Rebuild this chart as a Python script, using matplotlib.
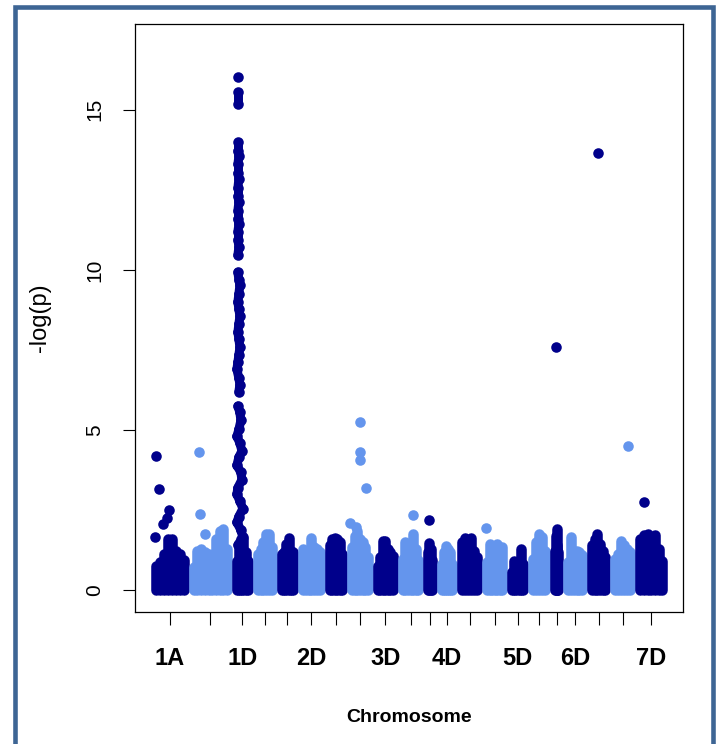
import numpy as np
import matplotlib
matplotlib.use('Agg')
import matplotlib.pyplot as plt
from matplotlib.patches import Rectangle

plt.rcParams['font.family'] = ['Liberation Sans', 'DejaVu Sans']

# chromosomes and their lengths on the x axis (arbitrary cumulative units)
chroms = ['1A', '1B', '1D', '2A', '2B', '2D', '3A', '3B', '3D', '4A', '4B',
          '4D', '5A', '5B', '5D', '6A', '6B', '6D', '7A', '7B', '7D']
chrom_len = [38, 43, 21, 24, 21, 27, 22, 26, 25, 25, 14,
             20, 25, 25, 21, 22, 13, 24, 23, 25, 32]
shown_labels = ['1A', '1D', '2D', '3D', '4D', '5D', '6D', '7D']

# upper edge of the dense cloud of SNPs (-log p), left to right in each chromosome
top_1A = [0.77, 0.88, 1.14, 1.6, 1.6, 1.24, 1.14, 0.93]
top_1B = [0.72, 1.24, 1.29, 1.2, 1.14, 1.08, 1.6, 1.86, 1.92, 1.3]
top_1D = [0.9, 1.3, 1.6, 1.6, 1.2, 0.9]
top_2A = [1.14, 1.29, 1.5, 1.76, 1.76, 1.34]
top_2B = [1.14, 1.19, 1.45, 1.64, 1.24, 1.19]
top_2D = [1.29, 1.14, 1.2, 1.62, 1.34, 1.29, 1.2]
top_3A = [1.4, 1.6, 1.62, 1.6, 1.5, 1.14]
top_3B = [1.34, 1.7, 1.85, 1.6, 1.5, 1.34, 1.03]
top_3D = [0.77, 1.03, 1.54, 1.54, 1.3, 1.19, 1.08]
top_4A = [0.98, 1.5, 1.34, 1.45, 1.75, 1.29, 0.93]
top_4B = [1.19, 1.49, 1.3, 0.93]
top_4D = [0.82, 1.19, 1.38, 1.3, 1.19, 0.82]
top_5A = [1.5, 1.64, 1.55, 1.64, 1.24, 1.03]
top_5B = [0.88, 1.43, 0.98, 1.03, 1.43, 1.14, 1.34]
top_5D = [0.56, 0.92, 0.77, 0.88, 1.28, 0.82]
top_6A = [0.98, 1.5, 1.75, 1.65, 1.24]
top_6B = [1.24, 1.69, 1.4, 1.92, 1.19]
top_6D = [0.88, 1.67, 1.24, 1.24, 1.19, 1.1]
top_7A = [1.4, 1.6, 1.77, 1.45, 1.24, 1.03]
top_7B = [0.98, 1.14, 1.54, 1.4, 1.29, 1.19]
top_7D = [1.6, 1.72, 1.75, 1.45, 1.71, 1.3, 0.9]

# isolated SNPs above the cloud
out_chrom = ['1A', '1A', '1A', '1A', '1A', '1A', '1B', '1B', '1B',
             '3B', '3B', '3B', '3B', '3B', '3B', '4A', '4B', '5B',
             '6B', '7A', '7B', '7D']
out_pos = [5, 8, 18, 16, 12, 4, 10, 11, 16,
           13, 13, 13, 19, 3, 9, 15, 6, 4,
           6, 11, 18, 9]
out_logp = [4.18, 3.15, 2.49, 2.25, 2.06, 1.67, 4.33, 2.37, 1.75,
            5.24, 4.33, 4.08, 3.18, 2.1, 1.98, 2.35, 2.19, 1.95,
            7.58, 13.66, 4.49, 2.77]

# the strong association column on 1D
peak_1d_logp = [16.02, 15.57, 15.18, 14.01, 13.72, 13.55, 13.3, 13.02, 12.85, 12.55,
                12.3, 12.12, 11.85, 11.6, 11.42, 11.2, 10.95, 10.72, 10.46, 9.93,
                9.7, 9.52, 9.25, 9.0, 8.78, 8.55, 8.32, 8.05, 7.85, 7.58,
                7.35, 7.12, 6.9, 6.62, 6.42, 6.2, 5.75, 5.55, 5.3, 5.02,
                4.8, 4.6, 4.35, 4.15, 3.9, 3.68, 3.45, 3.2, 3.0, 2.78,
                2.55, 2.3, 2.12, 1.88, 1.65, 1.42]
peak_1d_pos = [6, 6, 6, 6, 6, 7, 6, 6, 7, 6,
               6, 7, 6, 6, 7, 6, 6, 7, 6, 6,
               7, 8, 7, 6, 7, 8, 7, 6, 7, 8,
               7, 6, 5, 7, 8, 7, 6, 8, 9, 7,
               5, 8, 10, 7, 5, 9, 10, 6, 5, 8,
               11, 7, 5, 9, 11, 6]

tops = [top_1A, top_1B, top_1D, top_2A, top_2B, top_2D, top_3A, top_3B, top_3D,
        top_4A, top_4B, top_4D, top_5A, top_5B, top_5D, top_6A, top_6B, top_6D,
        top_7A, top_7B, top_7D]

dark = '#00008B'
light = '#6495ED'
ms = 7.6          # point diameter in pt
rad = 5           # point radius in x units

starts = np.concatenate([[0], np.cumsum(chrom_len)[:-1]])
centers = starts + np.array(chrom_len) / 2

fig = plt.figure(figsize=(7.2, 7.44), dpi=100)
ax = fig.add_axes([135 / 720, 132 / 744, 548 / 720, 588 / 744])

for i, name in enumerate(chroms):
    col = dark if i % 2 == 0 else light
    s0 = starts[i]
    xs = np.linspace(s0 + rad, s0 + chrom_len[i] - rad, len(tops[i]))
    ax.vlines(xs, 0, tops[i], colors=col, lw=ms, capstyle='round')
    idx = [k for k, c in enumerate(out_chrom) if c == name]
    if idx:
        ax.scatter([s0 + out_pos[k] for k in idx], [out_logp[k] for k in idx],
                   s=ms ** 2, color=col, linewidths=0)
    if name == '1D':
        px = s0 + np.array(peak_1d_pos)
        py = np.array(peak_1d_logp)
        # overlapping neighbours merge into one solid column
        for k in range(len(py) - 1):
            if py[k] - py[k + 1] < 0.4:
                ax.plot(px[k:k + 2], py[k:k + 2], color=col, lw=ms * 0.85,
                        solid_capstyle='round')
        ax.scatter(px, py, s=ms ** 2, color=col, linewidths=0)

# R-style 4% padding around the data range
xmin, xmax = 4.5, sum(chrom_len) - 4.5
dx = 0.04 * (xmax - xmin)
ax.set_xlim(xmin - dx, xmax + dx)
ymax = np.ceil(max(peak_1d_logp))
ax.set_ylim(-0.04 * ymax, ymax * 1.04)

ax.set_xticks(centers)
ax.set_xticklabels([c if c in shown_labels else '' for c in chroms],
                   fontsize=17, fontweight='bold')
ax.set_yticks([0, 5, 10, 15])
ax.tick_params(axis='x', direction='out', length=9.5, width=0.8, pad=16)
ax.tick_params(axis='y', direction='out', length=9, width=0.8, pad=13, labelsize=15)
for lab in ax.get_yticklabels():
    lab.set_rotation(90)
    lab.set_va('center')

for sp in ax.spines.values():
    sp.set_linewidth(0.9)
    sp.set_color('black')

ax.set_xlabel('Chromosome', fontsize=14, fontweight='bold')
ax.xaxis.set_label_coords(0.5, -0.18)
ax.xaxis.label.set_va('center')
ax.set_ylabel('-log(p)', fontsize=17)
ax.yaxis.set_label_coords(-0.173, 0.5)
ax.yaxis.label.set_va('center')

# slide frame around the figure
fig.add_artist(Rectangle((15 / 720, -0.05), 697.5 / 720, 0.9906 + 0.05,
                         transform=fig.transFigure, fill=False,
                         edgecolor='#3d6594', lw=3.3))

fig.savefig('out.png', dpi=100)
